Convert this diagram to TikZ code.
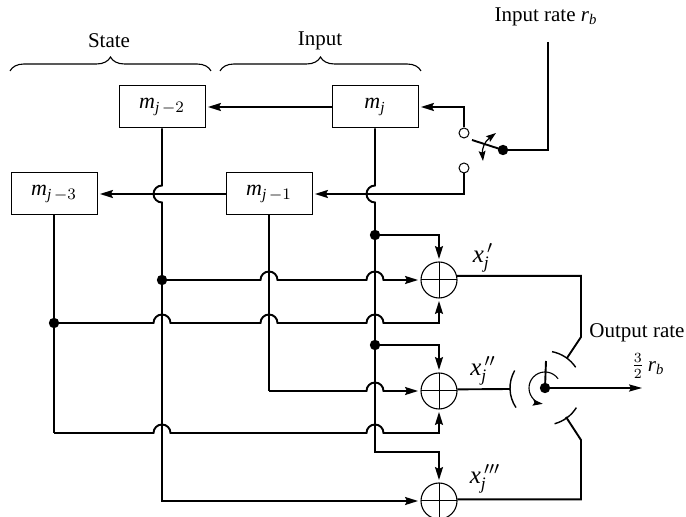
\documentclass[tikz,border=0pt]{standalone}
\usepackage{amsmath}
\usepackage{fontspec}
\setmainfont{Liberation Serif}
\usepackage{tikz}
\usetikzlibrary{arrows.meta,decorations.pathreplacing}
\newcommand{\symb}[1]{\textit{#1}}
\newcommand{\hop}[2]{-- (#1-8.5,#2) arc[start angle=180,end angle=0,radius=4.25pt]}
\newcommand{\bulge}[2]{-- (#1,#2-8.5) arc[start angle=90,end angle=270,radius=4.25pt]}

\begin{document}
\begin{tikzpicture}[
    x=0.5pt, y=-0.5pt,
    font=\fontsize{10.5}{12}\selectfont,
    reg/.style={draw, line width=0.5pt, minimum width=43pt, minimum height=21pt, inner sep=0pt, font=\fontsize{11}{12}\selectfont},
    adder/.style={draw, circle, line width=0.55pt, minimum size=18pt, inner sep=0pt,
        path picture={
            \draw[line width=0.5pt] (path picture bounding box.north) -- (path picture bounding box.south);
            \draw[line width=0.5pt] (path picture bounding box.west) -- (path picture bounding box.east);
        }},
    wire/.style={line width=0.95pt},
    arrow/.style={wire, -{Stealth[length=6.5pt,width=4pt,inset=1pt]}, shorten >=1.2pt},
    tap/.style={circle, fill=black, minimum size=5.2pt, inner sep=0pt},
    contact/.style={circle, draw, fill=white, line width=0.5pt, minimum size=5pt, inner sep=0pt},
    brace/.style={decorate, decoration={brace, amplitude=7pt}, line width=0.55pt},
    tag/.style={font=\fontsize{12.5}{14}\selectfont}
]
    \useasboundingbox (0,0) rectangle (686,517);

    % registers
    \node[reg] (m0) at (375,107) {$\symb{m}_{\symb{j}}$};
    \node[reg] (m2) at (162,107) {$\symb{m}_{\symb{j}\,-2}$};
    \node[reg] (m1) at (269,194) {$\symb{m}_{\symb{j}\,-1}$};
    \node[reg] (m3) at (54,194) {$\symb{m}_{\symb{j}\,-3}$};

    % adders
    \node[adder] (addA) at (439,280) {};
    \node[adder] (addB) at (439,391) {};
    \node[adder] (addC) at (439,501) {};

    % input switch
    \node[contact] (upper) at (464,133) {};
    \node[contact] (lower) at (464,168) {};
    \node[tap] (pivot) at (503,150) {};
    \coordinate (blade) at (472,140);
    \coordinate (feed) at (548,42);

    % output switch
    \node[tap] (hub) at (545,388) {};
    \coordinate (rotor) at (546,361);
    \coordinate (output) at (642,388);

    % taps
    \node[tap] (tapA) at (375,235) {};
    \node[tap] (tapB) at (375,345) {};
    \node[tap] (tapC) at (162,280) {};
    \node[tap] (tapD) at (54,323) {};
    \coordinate (bendB) at (269,391);
    \coordinate (bendC) at (375,452);
    \coordinate (endD) at (54,433);

    % labels
    \node (state) at (109,41) {State};
    \node (input) at (320,41) {Input};
    \node (inrate) at (546,17) {Input rate \symb{r}$_{\symb{b}}$};
    \node (outrate) at (637,333) {Output rate};
    \node (outfrac) at (648,366) {$\frac{3}{2}\,\symb{r}_{\symb{b}}$};
    \node[tag] (xa) at (483,258) {$\symb{x}_{\symb{j}}^{\,\prime}$};
    \node[tag] (xb) at (483,371) {$\symb{x}_{\symb{j}}^{\,\prime\prime}$};
    \node[tag] (xc) at (485,479) {$\symb{x}_{\symb{j}}^{\,\prime\prime\prime}$};

    % braces
    \coordinate (stateL) at (10,71);
    \coordinate (stateR) at (211,71);
    \coordinate (inputL) at (220,71);
    \coordinate (inputR) at (421,71);
    \draw[brace] (stateL) -- (stateR);
    \draw[brace] (inputL) -- (inputR);

    % shift register
    \draw[arrow] (m0.west) -- (m2.east);
    \draw[arrow] (m1.west) -- (m3.east);
    \draw[arrow] (upper.north) |- (m0.east);
    \draw[arrow] (lower.south) |- (m1.east);
    \draw[wire] (feed) |- (pivot.center);
    \draw[wire] (pivot.center) -- (blade);
    \draw[line width=0.6pt, {Stealth[length=5pt,width=3.4pt,inset=0.8pt]}-{Stealth[length=5pt,width=3.4pt,inset=0.8pt]}]
        (496,133) .. controls (484,142) and (482,150) .. (483,161);

    % verticals
    \draw[wire] (m2.south) \bulge{162}{194} -- (tapC.center);
    \draw[wire] (m0.south) \bulge{375}{194} -- (tapA.center) -- (tapB.center);
    \draw[wire] (m3.south) -- (tapD.center) -- (endD);

    % adder A
    \draw[arrow] (tapA.center) -| (addA.north);
    \draw[arrow] (tapC.center) \hop{269}{280} \hop{375}{280} -- (addA.west);
    \draw[arrow] (tapD.center) \hop{162}{323} \hop{269}{323} \hop{375}{323} -| (addA.south);

    % adder B
    \draw[arrow] (tapB.center) -| (addB.north);
    \draw[wire] (m1.south) -- (bendB);
    \draw[arrow] (bendB) \hop{375}{391} -- (addB.west);
    \draw[arrow] (endD) \hop{162}{433} \hop{375}{433} -| (addB.south);

    % adder C
    \draw[arrow] (tapB.center) -- (bendC) -| (addC.north);
    \draw[arrow] (tapC.center) |- (addC.west);

    % commutator
    \draw[wire] (addA.13) -| (581,337) -- (567,358);
    \draw[wire] (addB.5) -- (510,389);
    \draw[wire] (addC.5) -| (581,440) -- (566,417);
    \draw[line width=0.7pt] ([shift={(79:18.5pt)}]hub.center) arc[start angle=79,end angle=34,radius=18.5pt];
    \draw[line width=0.7pt] ([shift={(150:17.5pt)}]hub.center) arc[start angle=150,end angle=214,radius=17.5pt];
    \draw[line width=0.7pt] ([shift={(-75:18.5pt)}]hub.center) arc[start angle=-75,end angle=-32,radius=18.5pt];
    \draw[wire] (hub.center) -- (rotor);
    \draw[line width=0.6pt, -{Stealth[length=6.5pt,width=3.6pt,inset=1pt]}] (hub.center) -- (output);
    \draw[line width=0.55pt, -{Stealth[length=5pt,width=3.2pt,inset=0.8pt]}] ([shift={(35:8pt)}]hub.center) arc[start angle=35,end angle=262,radius=8pt];
\end{tikzpicture}
\end{document}
